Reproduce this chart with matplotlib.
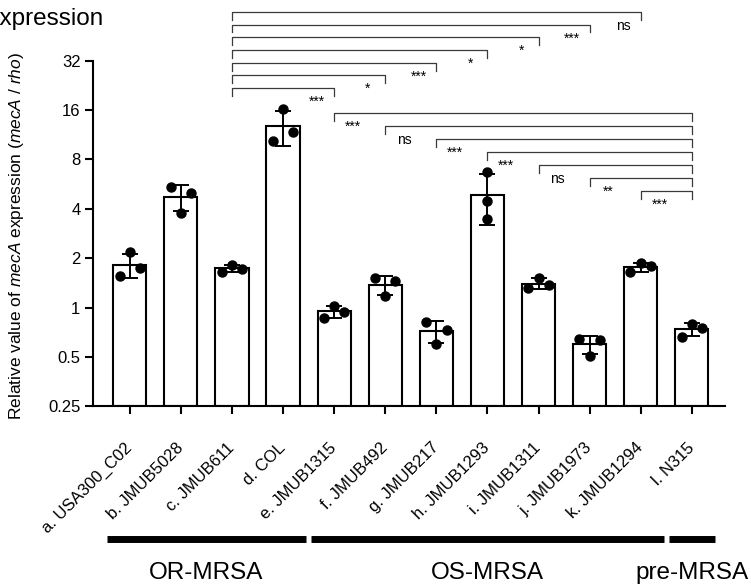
import numpy as np
import matplotlib
matplotlib.use('Agg')
import matplotlib.pyplot as plt
from matplotlib.transforms import blended_transform_factory

plt.rcParams['font.family'] = ['Liberation Sans', 'DejaVu Sans']
plt.rcParams['mathtext.fontset'] = 'custom'
plt.rcParams['mathtext.rm'] = 'Liberation Sans'
plt.rcParams['mathtext.it'] = 'Liberation Sans:italic'

strains = ['a. USA300_C02', 'b. JMUB5028', 'c. JMUB611', 'd. COL',
           'e. JMUB1315', 'f. JMUB492', 'g. JMUB217', 'h. JMUB1293',
           'i. JMUB1311', 'j. JMUB1973', 'k. JMUB1294', 'l. N315']

# three replicates per strain (left, middle, right dot)
reps = [
    [1.57, 2.17, 1.75],
    [5.47, 3.80, 4.97],
    [1.66, 1.83, 1.71],
    [10.3, 16.2, 11.7],
    [0.87, 1.03, 0.945],
    [1.52, 1.17, 1.46],
    [0.82, 0.60, 0.73],
    [6.70, 4.44, 3.45],
    [1.31, 1.52, 1.38],
    [0.647, 0.51, 0.638],
    [1.64, 1.86, 1.80],
    [0.665, 0.80, 0.755],
]

groups = ['OR-MRSA', 'OS-MRSA', 'pre-MRSA']
group_first = [0, 4, 11]
group_last = [3, 10, 11]

# comparisons: c. JMUB611 vs e..k  and  l. N315 vs e..k
top_ref = 2
top_targets = [4, 5, 6, 7, 8, 9, 10]
top_labels = ['***', '*', '***', '*', '*', '***', 'ns']
bot_ref = 11
bot_targets = [4, 5, 6, 7, 8, 9, 10]
bot_labels = ['***', 'ns', '***', '***', 'ns', '**', '***']

reps = np.array(reps)
means = reps.mean(axis=1)
sds = reps.std(axis=1, ddof=1)
x = np.arange(len(strains))

fig = plt.figure(figsize=(7.51, 5.88), dpi=100)
ax = fig.add_axes([0.1238, 0.3087, 0.8416, 0.5881])

ax.set_yscale('log', base=2)
ax.bar(x, means - 0.25, bottom=0.25, width=0.65, color='white',
       edgecolor='black', linewidth=1.5, zorder=2)
ax.errorbar(x, means, yerr=sds, fmt='none', ecolor='black', elinewidth=1.4,
            capsize=6, capthick=1.4, zorder=3)

offsets = np.array([-0.2, 0.0, 0.2])
for i in range(len(strains)):
    off = offsets if i != 7 else np.zeros(3)
    ax.plot(x[i] + off, reps[i], 'o', color='black', markersize=6.5, zorder=4)

ax.set_ylim(0.25, 32)
ax.set_xlim(-0.72, 11.65)
yt = [0.25, 0.5, 1, 2, 4, 8, 16, 32]
ax.set_yticks(yt)
ax.set_yticklabels(['0.25', '0.5', '1', '2', '4', '8', '16', '32'], fontsize=12)
ax.minorticks_off()
ax.set_xticks(x)
ax.set_xticklabels(strains, rotation=45, ha='right', va='center',
                   rotation_mode='anchor', fontsize=12)
ax.tick_params(axis='y', length=6, width=1.5, pad=3)
ax.tick_params(axis='x', length=6, width=1.5, pad=22)
for s in ['top', 'right']:
    ax.spines[s].set_visible(False)
for s in ['left', 'bottom']:
    ax.spines[s].set_linewidth(1.5)

fig.text(17 / 751, 1 - 236 / 588,
         'Relative value of $\\mathit{mecA}$ expression ($\\mathit{mecA}$ / $\\mathit{rho}$)',
         rotation=90, ha='center', va='center', fontsize=12.5)
fig.text(103 / 751, 1 - 25 / 588, 'expression', ha='right', va='baseline',
         fontsize=17.5)

trans = blended_transform_factory(ax.transData, ax.transAxes)
tick = 0.023
lc = '#3a3a3a'

def bracket(x0, x1, y):
    ax.plot([x0, x0, x1, x1], [y - tick, y, y, y - tick], color=lc, lw=0.9,
            transform=trans, clip_on=False)

for k, (t, lab) in enumerate(zip(top_targets, top_labels)):
    y = 0.921 + 0.0367 * k
    bracket(x[top_ref], x[t], y)
    ax.text(x[t] - 0.34, y - 0.040, lab, ha='center', va='center',
            fontsize=10, transform=trans, clip_on=False)

for k, (t, lab) in enumerate(zip(bot_targets, bot_labels)):
    y = 0.849 - 0.0376 * k
    bracket(x[t], x[bot_ref], y)
    ax.text(x[t] + 0.37, y - 0.040, lab, ha='center', va='center',
            fontsize=10, transform=trans, clip_on=False)

for g, a, b in zip(groups, group_first, group_last):
    ax.plot([x[a] - 0.45, x[b] + 0.45], [-0.383, -0.383], color='black',
            lw=5, solid_capstyle='butt', transform=trans, clip_on=False)
    ax.text((x[a] + x[b]) / 2, -0.482, g, ha='center', va='center',
            fontsize=17.5, transform=trans, clip_on=False)

fig.savefig('out.png', dpi=100)
